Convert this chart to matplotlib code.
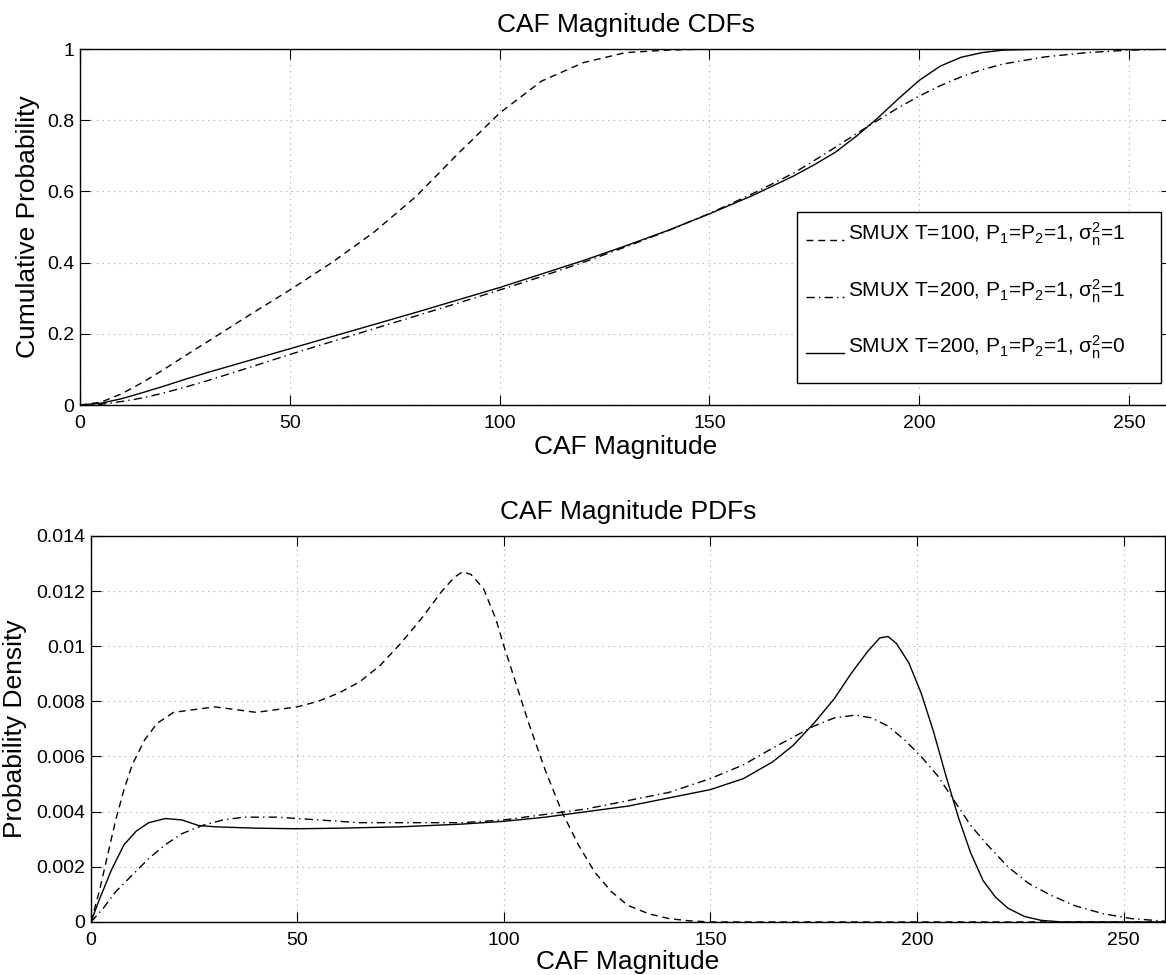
import matplotlib
import matplotlib.pyplot as plt
from matplotlib.patches import Rectangle
from matplotlib.ticker import FormatStrFormatter

matplotlib.use('Agg')

plt.rcParams['font.family'] = ['Liberation Sans', 'DejaVu Sans']
plt.rcParams['mathtext.fontset'] = 'custom'
plt.rcParams['mathtext.rm'] = 'Liberation Sans'
plt.rcParams['mathtext.default'] = 'regular'

# Legend labels
labels = [r'SMUX T=100, P$_1$=P$_2$=1, $\sigma^2_n$=1',
          r'SMUX T=200, P$_1$=P$_2$=1, $\sigma^2_n$=1',
          r'SMUX T=200, P$_1$=P$_2$=1, $\sigma^2_n$=0']

# CDFs
cdf_x = [0, 5, 10, 15, 20, 25, 30, 40, 50, 60, 70, 80, 90, 100, 110, 120, 130, 140, 150,
         160, 170, 175, 180, 185, 190, 195, 200, 205, 210, 215, 220, 230, 240, 250, 260]
cdf_t100 = [0, 0.008, 0.032, 0.064, 0.1, 0.138, 0.175, 0.25, 0.323, 0.4, 0.485, 0.585,
            0.705, 0.82, 0.91, 0.962, 0.99, 0.997, 1.0,
            1.0, 1.0, 1.0, 1.0, 1.0, 1.0, 1.0, 1.0, 1.0, 1.0, 1.0, 1.0, 1.0, 1.0, 1.0, 1.0]
cdf_t200_n1 = [0, 0.002, 0.01, 0.02, 0.034, 0.05, 0.067, 0.104, 0.142, 0.178, 0.214, 0.25,
               0.286, 0.323, 0.361, 0.401, 0.444, 0.489, 0.538,
               0.592, 0.651, 0.687, 0.724, 0.762, 0.799, 0.835, 0.868, 0.897, 0.922, 0.942,
               0.958, 0.978, 0.99, 0.997, 1.0]
cdf_t200_n0 = [0, 0.005, 0.018, 0.035, 0.053, 0.072, 0.09, 0.124, 0.158, 0.192, 0.226, 0.26,
               0.295, 0.33, 0.368, 0.406, 0.447, 0.49, 0.537,
               0.587, 0.643, 0.675, 0.71, 0.755, 0.805, 0.86, 0.912, 0.952, 0.977, 0.99,
               0.997, 1.0, 1.0, 1.0, 1.0]

# PDFs
pdf_t100_x = [0, 2, 4, 6, 8, 10, 13, 16, 20, 25, 30, 35, 40, 45, 50, 55, 60, 65, 70, 75, 80,
              85, 88, 90, 92, 95, 98, 100, 103, 106, 110, 114, 118, 122, 126, 130, 135, 140,
              145, 150, 260]
pdf_t100 = [0, 0.0011, 0.0024, 0.0037, 0.0048, 0.0057, 0.0066, 0.0072, 0.0076, 0.0077,
            0.0078, 0.0077, 0.0076, 0.0077, 0.0078, 0.0080, 0.0083, 0.0087, 0.0093, 0.0101,
            0.0110, 0.0120, 0.0125, 0.0127, 0.0126, 0.0121, 0.0110, 0.0100, 0.0086, 0.0072,
            0.0055, 0.0040, 0.0028, 0.0018, 0.0011, 0.0006, 0.0003, 0.00012, 0.00004, 0, 0]

pdf_n1_x = [0, 3, 6, 10, 14, 18, 22, 27, 32, 37, 45, 55, 65, 75, 90, 100, 110, 120, 130, 140,
            150, 158, 165, 170, 175, 180, 185, 189, 193, 197, 201, 205, 209, 213, 217, 222,
            227, 232, 238, 245, 252, 260]
pdf_t200_n1 = [0, 0.0005, 0.0011, 0.0017, 0.0023, 0.0028, 0.0032, 0.0035, 0.0037, 0.0038,
               0.0038, 0.0037, 0.0036, 0.0036, 0.0036, 0.0037, 0.0039, 0.0041, 0.0044, 0.0047,
               0.0052, 0.0057, 0.0063, 0.0067, 0.0071, 0.0074, 0.0075, 0.0074, 0.0071, 0.0066,
               0.0060, 0.0053, 0.0044, 0.0035, 0.0028, 0.0020, 0.0014, 0.0010, 0.0006, 0.0003,
               0.00012, 0.00003]

pdf_n0_x = [0, 2, 5, 8, 11, 14, 18, 22, 26, 30, 40, 50, 60, 75, 90, 100, 110, 120, 130, 140,
            150, 158, 165, 170, 175, 180, 184, 188, 191, 193, 195, 198, 201, 204, 207, 210,
            213, 216, 219, 222, 226, 230, 235, 260]
pdf_t200_n0 = [0, 0.0008, 0.0019, 0.0028, 0.0033, 0.0036, 0.00375, 0.0037, 0.0035, 0.00345,
               0.0034, 0.00338, 0.0034, 0.00345, 0.00355, 0.00365, 0.0038, 0.0040, 0.0042,
               0.0045, 0.0048, 0.0052, 0.0058, 0.0064, 0.0072, 0.0081, 0.0090, 0.0098, 0.0103,
               0.01035, 0.0101, 0.0094, 0.0083, 0.0069, 0.0053, 0.0038, 0.0025, 0.0015, 0.0009,
               0.0005, 0.0002, 0.00006, 0, 0]

x_ticks = [0, 50, 100, 150, 200, 250]
cdf_ticks = [0, 0.2, 0.4, 0.6, 0.8, 1]
pdf_ticks = [0, 0.002, 0.004, 0.006, 0.008, 0.01, 0.012, 0.014]

DASH = (0, (5, 3.5))
DASHDOT = (0, (6, 3, 1, 3))


def style_axes(ax, yticks):
    """MATLAB-like box, inward ticks and dotted grid."""
    ax.set_xlim(0, 260)
    ax.set_xticks(x_ticks)
    ax.set_yticks(yticks)
    ax.yaxis.set_major_formatter(FormatStrFormatter('%g'))
    ax.tick_params(direction='in', length=7, width=0.8, top=True, right=True,
                   labelsize=14, pad=4)
    ax.tick_params(axis='x', pad=7)
    ax.grid(True, color='#a8a8a8', linestyle=(0, (1, 4)), linewidth=0.8)
    for sp in ax.spines.values():
        sp.set_linewidth(1.0)


def main():
    fig = plt.figure(figsize=(11.66, 9.75), dpi=100)

    # Top: CDFs
    ax1 = fig.add_axes([0.0686, 0.5846, 0.9357, 0.3651])
    h1, = ax1.plot(cdf_x, cdf_t100, color='k', lw=1.0, linestyle=DASH)
    h2, = ax1.plot(cdf_x, cdf_t200_n1, color='k', lw=1.0, linestyle=DASHDOT)
    h3, = ax1.plot(cdf_x, cdf_t200_n0, color='k', lw=1.0)
    style_axes(ax1, cdf_ticks)
    ax1.set_ylim(0, 1)
    ax1.set_title('CAF Magnitude CDFs', fontsize=19, pad=12)
    ax1.set_xlabel('CAF Magnitude', fontsize=19, labelpad=2)
    ax1.set_ylabel('Cumulative Probability', fontsize=19, labelpad=5)

    # legend: matplotlib text, hand-drawn MATLAB-ish box
    ax1.add_patch(Rectangle((0.657, 0.062), 0.334, 0.48, transform=ax1.transAxes,
                            facecolor='white', edgecolor='k', lw=1.0, zorder=4))
    leg = ax1.legend([h1, h2, h3], labels, loc='upper left', bbox_to_anchor=(0.66, 0.535),
                     frameon=False, fontsize=15, handlelength=1.8, handletextpad=0.2,
                     labelspacing=1.4, borderaxespad=0, borderpad=0.3)
    leg.set_zorder(5)
    # MATLAB puts the sample lines near the text baseline
    for ln in leg.legend_handles:
        y = ln.get_ydata()
        ln.set_ydata([v - 5 for v in y])

    # Bottom: PDFs
    ax2 = fig.add_axes([0.078, 0.0544, 0.921, 0.396])
    ax2.plot(pdf_t100_x, pdf_t100, color='k', lw=1.0, linestyle=DASH)
    ax2.plot(pdf_n1_x, pdf_t200_n1, color='k', lw=1.0, linestyle=DASHDOT)
    ax2.plot(pdf_n0_x, pdf_t200_n0, color='k', lw=1.0)
    style_axes(ax2, pdf_ticks)
    ax2.set_ylim(0, 0.014)
    ax2.set_title('CAF Magnitude PDFs', fontsize=19, pad=12)
    ax2.set_xlabel('CAF Magnitude', fontsize=19, labelpad=1)
    ax2.set_ylabel('Probability Density', fontsize=19, labelpad=7)

    fig.savefig('out.png', dpi=100)


if __name__ == '__main__':
    main()
